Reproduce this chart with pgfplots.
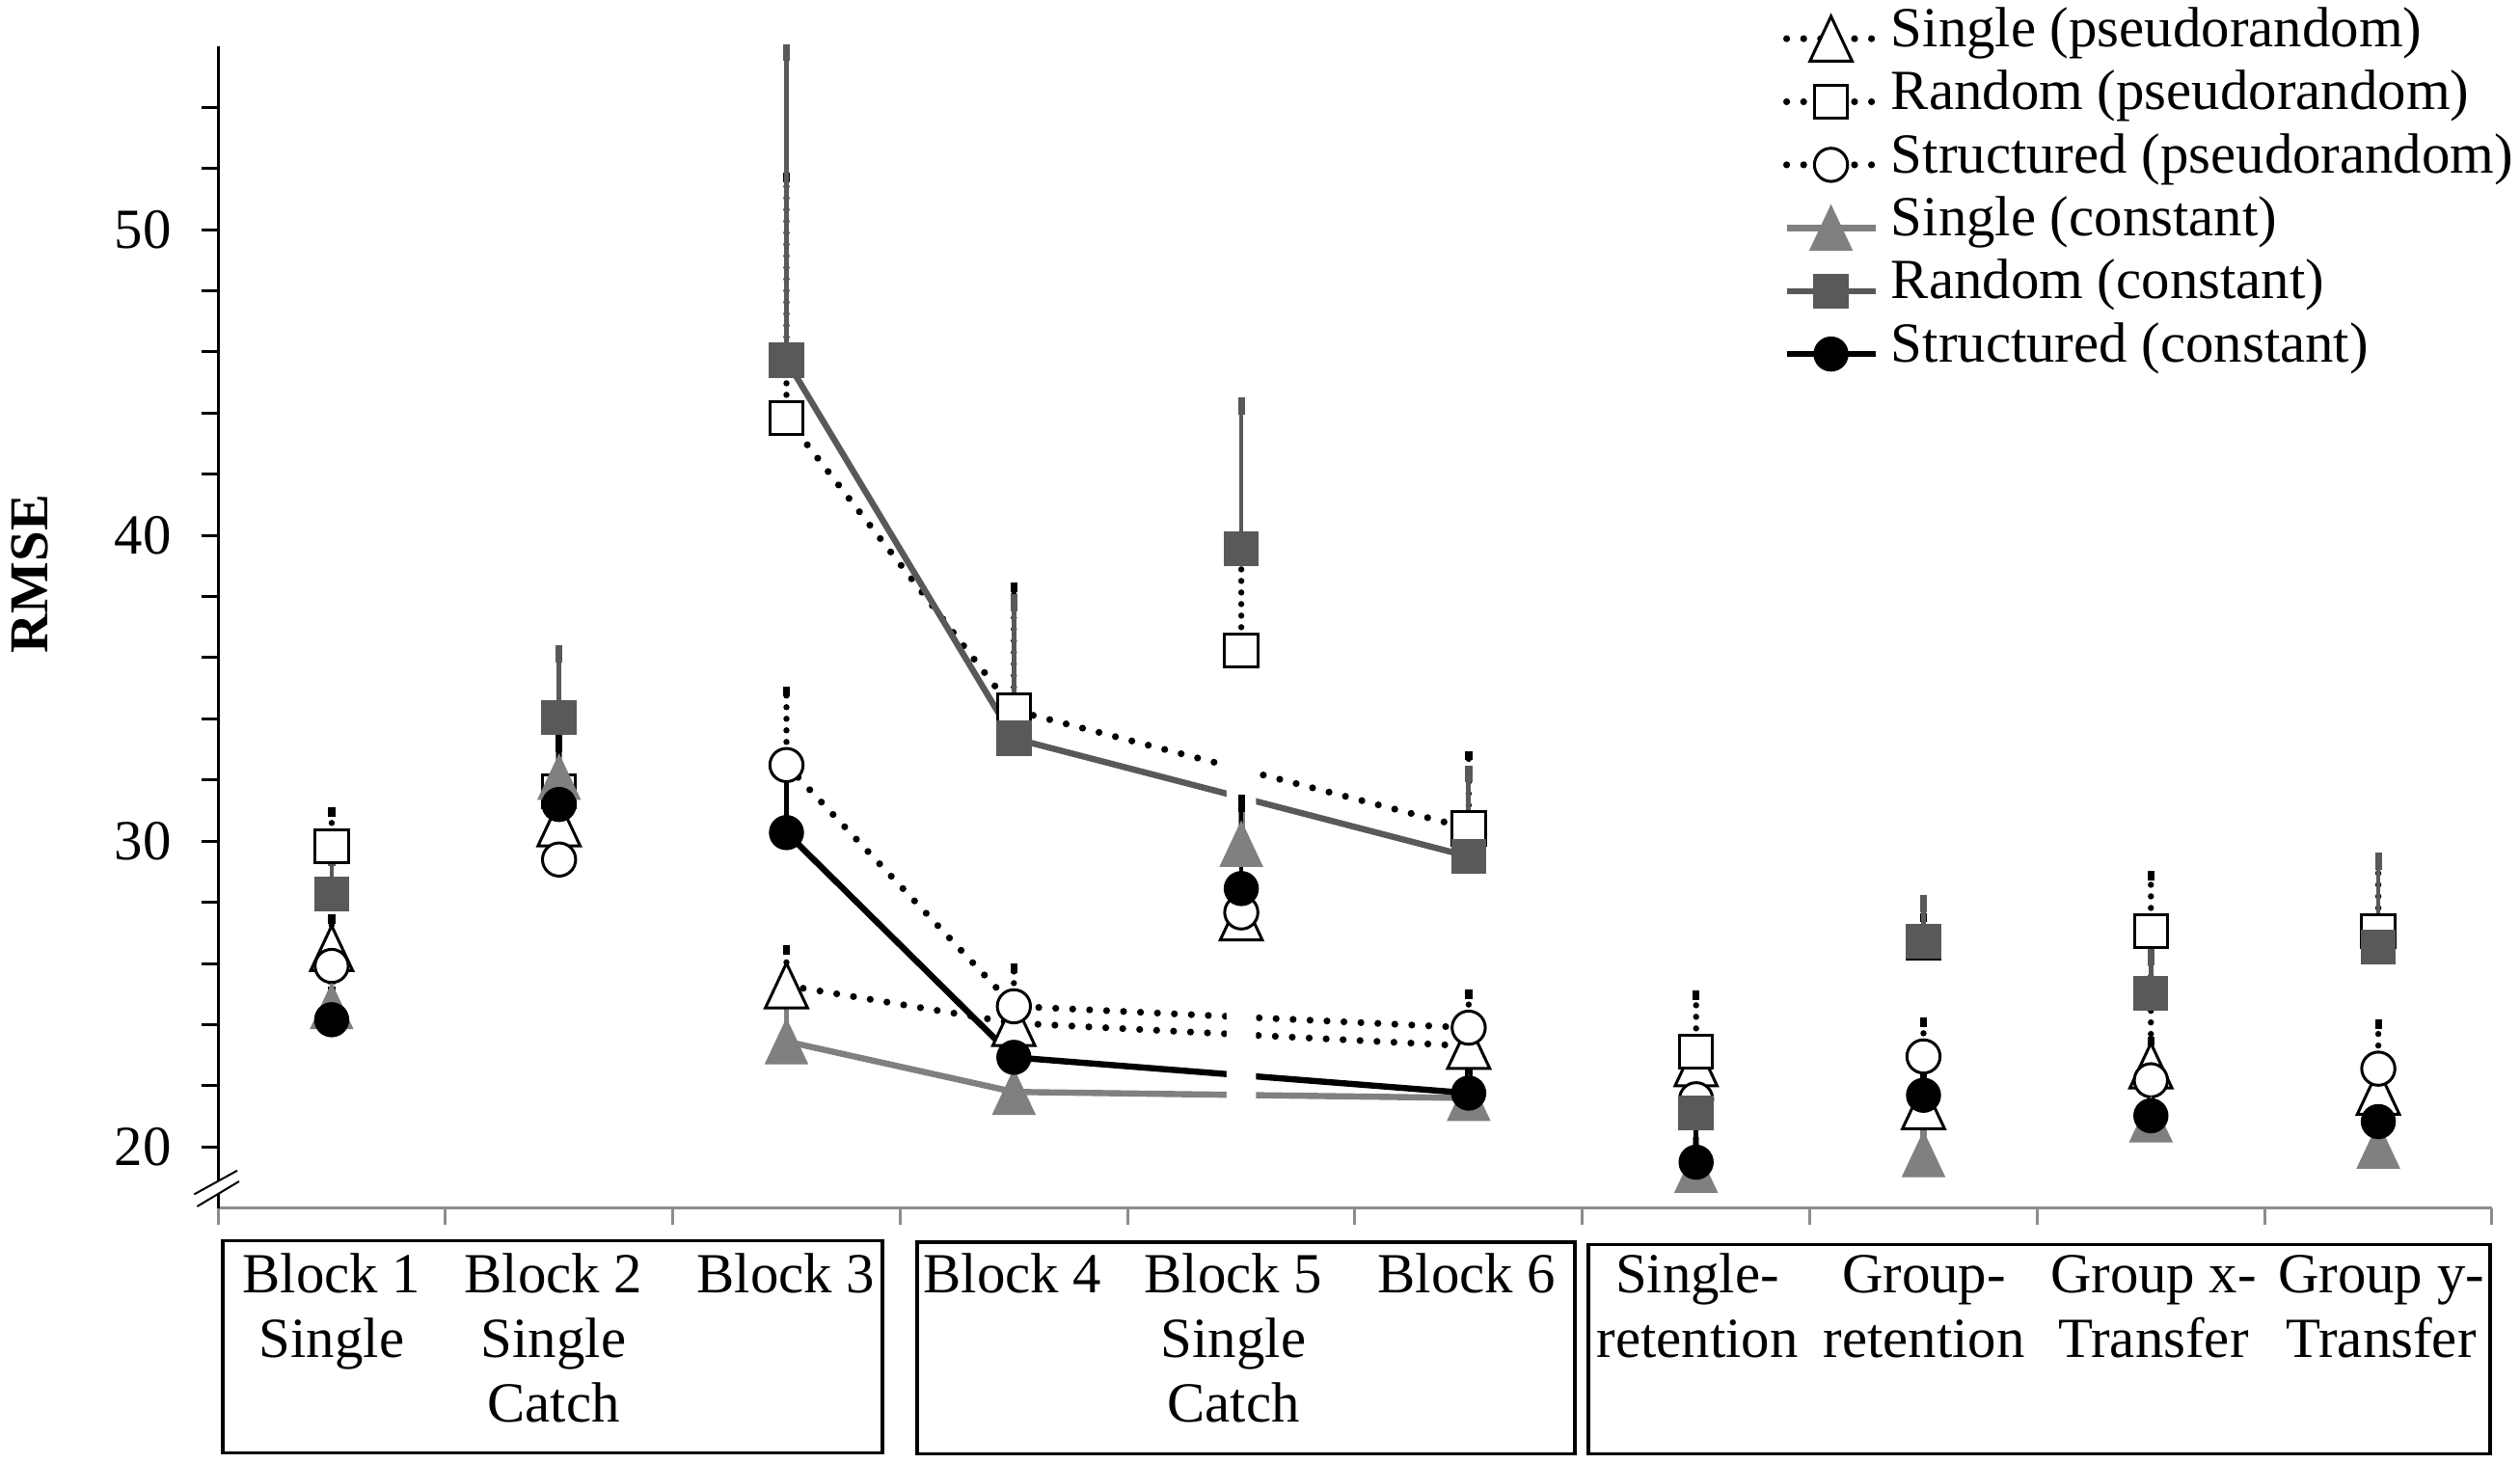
\documentclass[border=0pt]{standalone}
\usepackage{fontspec}
\setmainfont{Liberation Serif}
\usepackage{pgfplots}
\pgfplotsset{compat=1.18}

\definecolor{tgray}{HTML}{808080}
\definecolor{dgray}{HTML}{595959}
\definecolor{agray}{HTML}{8C8C8C}
\newcommand{\lbl}{\fontsize{14.7}{16}\selectfont}

% triangle centred on its bounding box (as in the spreadsheet original)
\pgfdeclareplotmark{etri}{%
  \pgfpathmoveto{\pgfqpoint{0pt}{\pgfplotmarksize}}%
  \pgfpathlineto{\pgfqpoint{-0.94\pgfplotmarksize}{-\pgfplotmarksize}}%
  \pgfpathlineto{\pgfqpoint{0.94\pgfplotmarksize}{-\pgfplotmarksize}}%
  \pgfpathclose
  \pgfusepathqfillstroke}

\pgfplotsset{
  pseudoline/.style={black, line width=1.8pt, line cap=round, dash pattern=on 0pt off 4.4pt},
  constline/.style={line width=1.6pt, solid},
  wtri/.style={mark=etri, mark size=5.8pt, mark options={solid, fill=white, draw=black, line width=0.75pt}},
  wsq/.style={mark=square*, mark size=4.3pt, mark options={solid, fill=white, draw=black, line width=0.75pt}},
  wcirc/.style={mark=*, mark size=4.3pt, mark options={solid, fill=white, draw=black, line width=0.75pt}},
  gtri/.style={mark=etri, mark size=5.8pt, mark options={solid, fill=tgray, draw=tgray, line width=0.3pt}},
  dsq/.style={mark=square*, mark size=4.4pt, mark options={solid, fill=dgray, draw=dgray, line width=0.3pt}},
  bcirc/.style={mark=*, mark size=4.4pt, mark options={solid, fill=black, draw=black, line width=0.3pt}},
  pseudoerr/.style={error bars/y dir=plus, error bars/y explicit,
    error bars/error bar style={black, line width=1.6pt, line cap=round, dash pattern=on 0pt off 3pt},
    error bars/error mark=-,
    error bars/error mark options={black, line width=1.8pt, mark size=1.2pt, solid}},
  consterr/.style={error bars/y dir=plus, error bars/y explicit,
    error bars/error bar style={#1, line width=1.2pt, solid},
    error bars/error mark=-,
    error bars/error mark options={#1, line width=1.8pt, mark size=2.2pt, solid}},
}

\begin{document}
\begin{tikzpicture}
\path[use as bounding box] (0,0) rectangle (653.25pt,379.25pt);
\begin{axis}[
  at={(56.5pt,66.075pt)}, anchor=south west,
  scale only axis, width=589.5pt, height=301.2pt,
  xmin=-0.5, xmax=9.5, ymin=18, ymax=56,
  clip=false,
  axis lines=left,
  axis line style={-},
  x axis line style={agray, line width=0.75pt},
  y axis line style={black, line width=0.75pt},
  tick align=outside,
  major tick length=4.25pt, minor tick length=4.25pt,
  xtick={-0.5,0.5,...,9.5}, xticklabels={},
  xtick style={agray, line width=0.75pt},
  ytick={20,30,40,50},
  minor ytick={22,24,26,28,32,34,36,38,42,44,46,48,52,54},
  ytick style={black, line width=0.75pt},
  every minor tick/.append style={black, line width=0.75pt},
  /pgf/number format/assume math mode=true,
  tick label style={font=\lbl},
  yticklabel style={inner sep=0pt, xshift=-7.6pt},
  legend cell align=left,
  legend style={at={(axis description cs:0.6883,1.0336)}, anchor=north west,
    draw=none, fill=none, inner sep=0pt, outer sep=0pt, row sep=0pt, column sep=1.2pt,
    font=\lbl, nodes={inner xsep=2pt, inner ysep=0pt, text height=10.2pt, text depth=6.15pt}},
  legend image code/.code={\draw[mark repeat=2, mark phase=2, #1] plot coordinates {(0pt,0pt) (11.5pt,0pt) (23pt,0pt)};},
]
% connecting lines: Block 3, Block 4, Block 6
\addplot[pseudoline, forget plot] coordinates {(2,25.28) (3,24.05) (5,23.3)};
\addplot[pseudoline, forget plot] coordinates {(2,43.84) (3,34.28) (5,30.42)};
\addplot[pseudoline, forget plot] coordinates {(2,32.49) (3,24.6) (5,23.9)};
\addplot[constline, tgray, forget plot] coordinates {(2,23.45) (3,21.8) (5,21.6)};
\addplot[constline, dgray, forget plot] coordinates {(2,45.73) (3,33.36) (5,29.5)};
\addplot[constline, black, forget plot] coordinates {(2,30.28) (3,22.93) (5,21.76)};
% gap in the lines at the catch block
\addplot[fill=white, draw=none, forget plot] coordinates {(3.935,21) (4.065,21) (4.065,33) (3.935,33) (3.935,21)};

% Single (pseudorandom)
\addplot[only marks, wtri, pseudoerr, forget plot] coordinates {
 (0,26.5) +- (0,0.95) (1,30.58) +- (0,0.8) (2,25.28) +- (0,1.17) (3,24.05) +- (0,0.8)
 (4,27.5) +- (0,0.8) (5,23.3) +- (0,0.8) (6,22.73) +- (0,0.8) (7,21.33) +- (0,0.8)
 (8,22.66) +- (0,0.8) (9,21.8) +- (0,0.8)};
% Random (pseudorandom)
\addplot[only marks, wsq, pseudoerr, forget plot] coordinates {
 (0,29.84) +- (0,1.12) (1,31.63) +- (0,0.8) (2,43.84) +- (0,7.86) (3,34.28) +- (0,4.02)
 (4,36.24) +- (0,3.5) (5,30.42) +- (0,2.38) (6,23.12) +- (0,1.85) (7,26.7) +- (0,0.8)
 (8,27.06) +- (0,1.81) (9,27.06) +- (0,2.3)};
% Structured (pseudorandom)
\addplot[only marks, wcirc, pseudoerr, forget plot] coordinates {
 (0,25.92) +- (0,0.8) (1,29.4) +- (0,0.8) (2,32.49) +- (0,2.41) (3,24.6) +- (0,1.24)
 (4,27.67) +- (0,0.8) (5,23.9) +- (0,1.1) (6,21.56) +- (0,0.8) (7,22.96) +- (0,1.12)
 (8,22.18) +- (0,4.3) (9,22.56) +- (0,1.45)};
% Single (constant)
\addplot[only marks, gtri, consterr=tgray, forget plot] coordinates {
 (0,24.6) +- (0,1.0) (1,32.1) +- (0,0.8) (2,23.45) +- (0,1.5) (3,21.8) +- (0,0.8)
 (4,29.91) +- (0,0.8) (5,21.6) +- (0,0.8) (6,19.25) +- (0,0.8) (7,19.76) +- (0,0.8)
 (8,20.9) +- (0,0.8) (9,20.04) +- (0,0.8)};
% Random (constant)
\addplot[only marks, dsq, consterr=dgray, forget plot] coordinates {
 (0,28.28) +- (0,1.2) (1,34.05) +- (0,2.07) (2,45.73) +- (0,10.06) (3,33.36) +- (0,4.44)
 (4,39.56) +- (0,4.67) (5,29.5) +- (0,2.7) (6,21.11) +- (0,1.0) (7,26.73) +- (0,1.22)
 (8,25.02) +- (0,1.2) (9,26.54) +- (0,2.8)};
% Structured (constant)
\addplot[only marks, bcirc, consterr=black, forget plot] coordinates {
 (0,24.16) +- (0,0.8) (1,31.2) +- (0,2.0) (2,30.28) +- (0,2.0) (3,22.93) +- (0,0.8)
 (4,28.45) +- (0,2.79) (5,21.76) +- (0,0.8) (6,19.5) +- (0,1.6) (7,21.69) +- (0,0.8)
 (8,21.02) +- (0,0.8) (9,20.83) +- (0,0.8)};

\addlegendimage{pseudoline, wtri}
\addlegendentry{Single (pseudorandom)}
\addlegendimage{pseudoline, wsq}
\addlegendentry{Random (pseudorandom)}
\addlegendimage{pseudoline, wcirc}
\addlegendentry{Structured (pseudorandom)}
\addlegendimage{constline, tgray, gtri}
\addlegendentry{Single (constant)}
\addlegendimage{constline, dgray, dsq}
\addlegendentry{Random (constant)}
\addlegendimage{constline, black, bcirc}
\addlegendentry{Structured (constant)}
\end{axis}

% axis break
\fill[white] (50.35pt,69.65pt) -- (61.5pt,75.8pt) -- (61.98pt,73.0pt) -- (51.1pt,66.5pt) -- cycle;
\draw[line width=0.5pt] (50.35pt,69.65pt) -- (61.5pt,75.8pt);
\draw[line width=0.5pt] (51.1pt,66.5pt) -- (61.98pt,73.0pt);

% y label
\node[rotate=90, font=\bfseries\fontsize{14.2}{16}\selectfont] at (7.75pt,230.5pt) {RMSE};

% category boxes
\draw[line width=0.9pt] (57.75pt,2.6pt) rectangle (228.75pt,57.6pt);
\draw[line width=0.9pt] (237.75pt,2.4pt) rectangle (408.25pt,57.2pt);
\draw[line width=0.9pt] (411.75pt,2.4pt) rectangle (645.5pt,56.6pt);

\begin{scope}[every node/.style={font=\lbl, anchor=base, inner sep=0pt}]
\node at (86pt,44.075pt) {Block 1};
\node at (86pt,27.25pt) {Single};
\node at (143.5pt,44.075pt) {Block 2};
\node at (143.5pt,27.25pt) {Single};
\node at (143.5pt,10.5pt) {Catch};
\node at (203.75pt,44.075pt) {Block 3};
\node at (262.5pt,44.075pt) {Block 4};
\node at (319.75pt,44.075pt) {Block 5};
\node at (319.75pt,27.25pt) {Single};
\node at (319.75pt,10.5pt) {Catch};
\node at (380.25pt,44.075pt) {Block 6};
\node at (440pt,44.075pt) {Single-};
\node at (440pt,27.25pt) {retention};
\node at (498.75pt,44.075pt) {Group-};
\node at (498.75pt,27.25pt) {retention};
\node at (558.25pt,44.075pt) {Group x-};
\node at (558.25pt,27.25pt) {Transfer};
\node at (617.25pt,44.075pt) {Group y-};
\node at (617.25pt,27.25pt) {Transfer};
\end{scope}
\end{tikzpicture}
\end{document}
